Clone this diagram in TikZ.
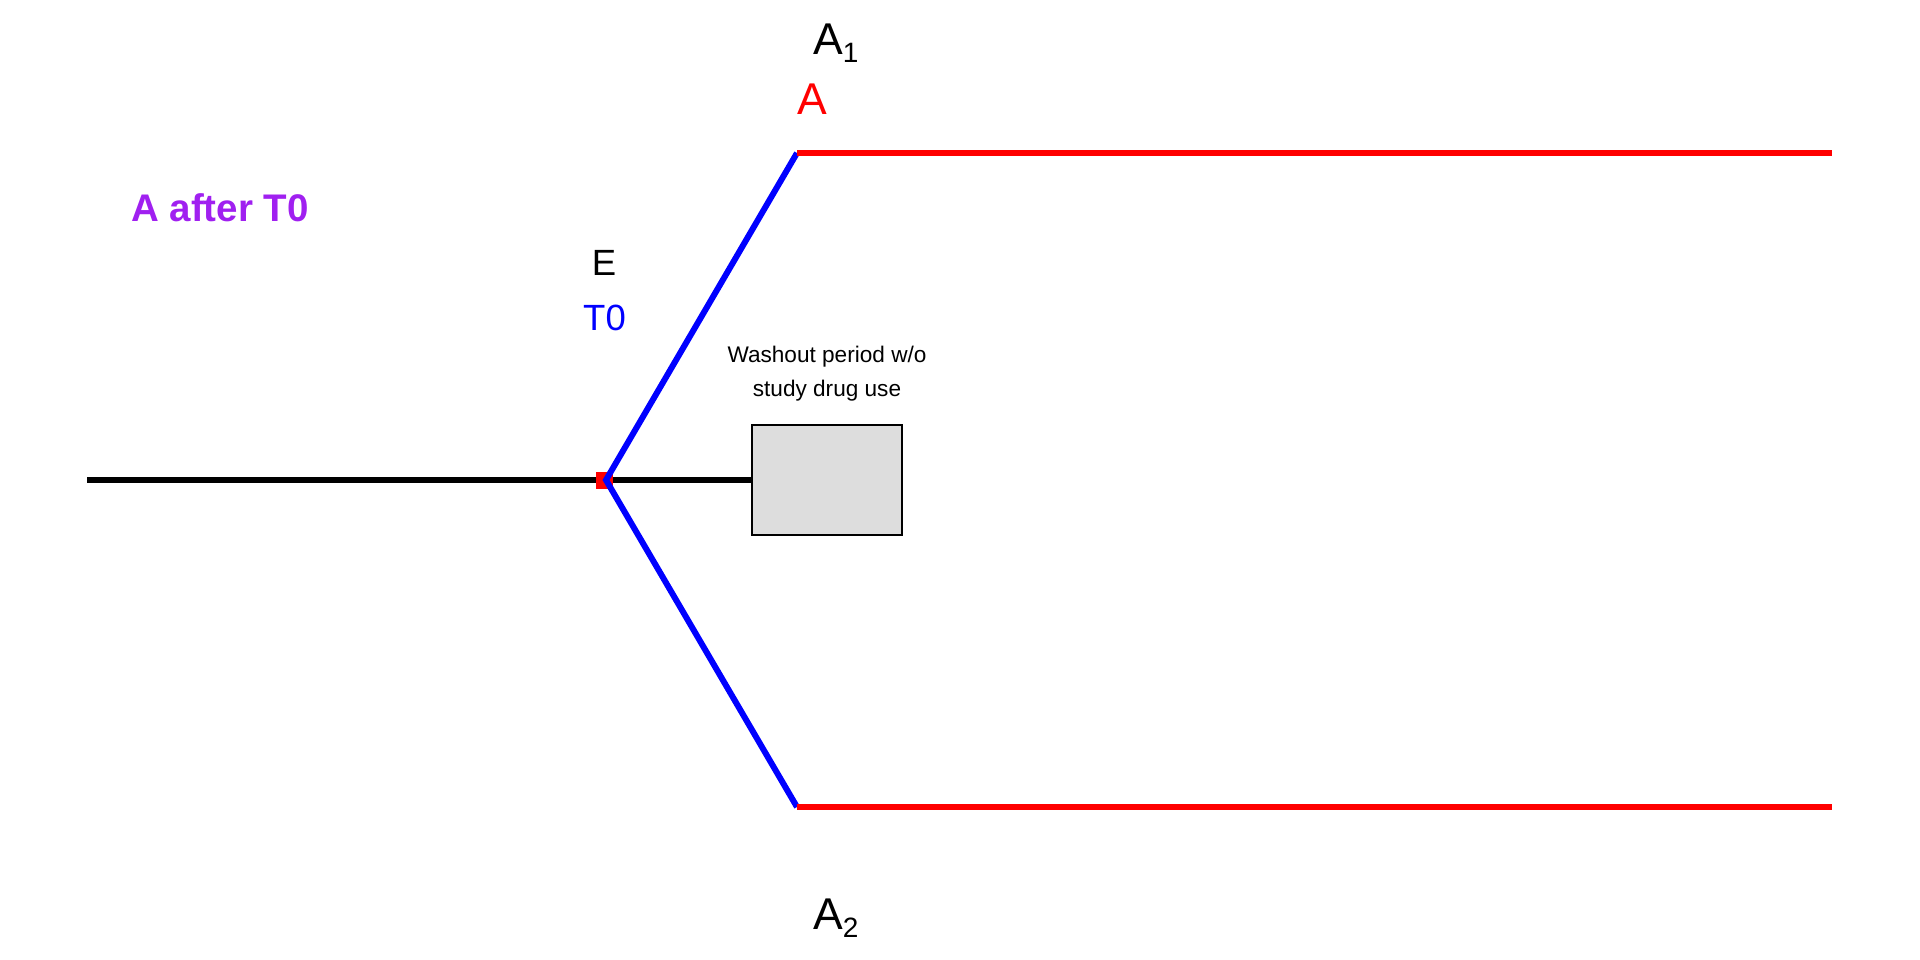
\documentclass[tikz,border=0pt]{standalone}
\usepackage{fontspec}
\setmainfont{Liberation Sans}
\definecolor{rpurple}{HTML}{A020F0}
\definecolor{boxgray}{HTML}{DDDDDD}
\begin{document}
\begin{tikzpicture}[x=1pt,y=-1pt,
  blk/.style={line width=6pt,black},
  blu/.style={line width=6pt,blue,line join=miter},
  rd/.style={line width=6pt,red},
  lbl/.style={inner sep=0pt,anchor=base},
  bigf/.style={font=\fontsize{44.5}{44.5}\selectfont},
  midf/.style={font=\fontsize{36.5}{36.5}\selectfont},
  smallf/.style={font=\fontsize{22.6}{22.6}\selectfont},
]
\useasboundingbox (0,0) rectangle (1920,960);
\coordinate (start) at (87,480);
\coordinate (E) at (606,480);
\coordinate (A1c) at (797,153);
\coordinate (A1e) at (1832,153);
\coordinate (A2c) at (797,807);
\coordinate (A2e) at (1832,807);
\node[draw=black,line width=2.5pt,fill=boxgray,minimum width=150pt,minimum height=110pt,inner sep=0pt] (box) at (827,480) {};
\draw[blk] (start) -- (box.west);
\node[fill=red,minimum size=17pt,inner sep=0pt] (sq) at (604.5,480) {};
\draw[blu] (A1c) -- (E) -- (A2c);
\draw[rd] (A1c) -- (A1e);
\draw[rd] (A2c) -- (A2e);
% labels
\node[lbl,bigf,anchor=base west] (a1) at (813,55) {A\raisebox{-8pt}{\fontsize{28}{28}\selectfont 1}};
\node[lbl,bigf,red] (a) at (812,115) {A};
\node[lbl,rpurple,font=\fontsize{38.5}{38.5}\selectfont\bfseries] (aft) at (220,222) {A after T0};
\node[lbl,midf] (e) at (604,276) {E};
\node[lbl,midf,blue] (t0) at (604.5,330) {T0};
\node[lbl,smallf] (w1) at (827,362) {Washout period w/o};
\node[lbl,smallf] (w2) at (827,396) {study drug use};
\node[lbl,bigf,anchor=base west] (a2) at (813,929) {A\raisebox{-8pt}{\fontsize{28}{28}\selectfont 2}};
\end{tikzpicture}
\end{document}
